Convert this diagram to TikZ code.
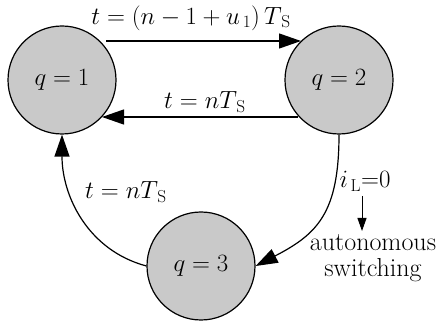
\documentclass[tikz,border=0pt]{standalone}
\usetikzlibrary{arrows.meta}
\begin{document}
\begin{tikzpicture}[x=1pt,y=-1pt,
  state/.style={circle,draw,line width=1.2pt,fill=black!21,minimum size=108pt,inner sep=0pt,font=\fontsize{27}{29}\selectfont},
  lbl/.style={font=\fontsize{26}{28}\selectfont,inner sep=1pt},
  conn/.style={line width=1.2pt,-{Triangle[length=22pt,width=15pt]}},
  small/.style={line width=1pt,-{Triangle[length=13pt,width=9pt]}}]
\useasboundingbox (0,0) rectangle (437,323);
\node[state] (q1) at (62,80) {$q = 1$};
\node[state] (q2) at (339,80) {$q = 2$};
\node[state] (q3) at (201,266) {$q = 3$};
\coordinate (a1) at (106,41);
\coordinate (b1) at (301,41);
\coordinate (a2) at (298,117);
\coordinate (b2) at (102,117);
\draw[conn] (a1) -- (b1);
\draw[conn] (a2) -- (b2);
\draw[conn] (q3.west) to[out=165,in=-90] (q1.south);
\draw[conn] (q2.south) .. controls +(0,78) and +(62,-32) .. (q3.east);
\node[lbl] (l1) at (191,18) {$t = (n - 1 + u_{\,1})\,T_{\,\mathrm{S}}$};
\node[lbl] (l2) at (205,102) {$t = nT_{\,\mathrm{S}}$};
\node[lbl] (l3) at (126,192) {$t = nT_{\,\mathrm{S}}$};
\node[lbl] (l4) at (365,181) {$i_{\,\mathrm{L}}{=}0$};
\coordinate (s1) at (362,196);
\coordinate (s2) at (362,231);
\draw[small] (s1) -- (s2);
\node[lbl] (l5) at (373,243) {autonomous};
\node[lbl] (l6) at (373,270) {switching};
\end{tikzpicture}
\end{document}
